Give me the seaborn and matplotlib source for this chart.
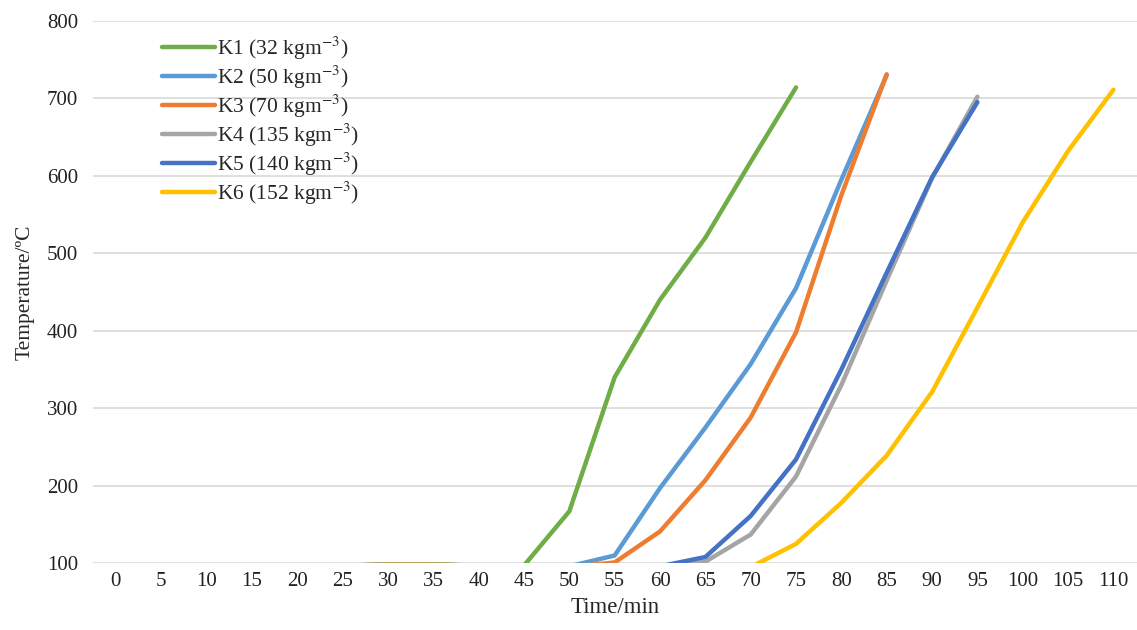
import numpy as np
import pandas as pd
import matplotlib
matplotlib.use("Agg")
import matplotlib.pyplot as plt
import seaborn as sns

times = [0, 5, 10, 15, 20, 25, 30, 35, 40, 45, 50, 55, 60, 65, 70, 75, 80, 85, 90, 95, 100, 105, 110]
labels = ["K1 (32 kgm$^{-3}$)", "K2 (50 kgm$^{-3}$)", "K3 (70 kgm$^{-3}$)",
          "K4 (135 kgm$^{-3}$)", "K5 (140 kgm$^{-3}$)", "K6 (152 kgm$^{-3}$)"]
nan = np.nan
k1 = [nan, nan, nan, nan, nan, 97, 98, 98, 97, 97, 167, 340, 440, 520, 618, 714,
      nan, nan, nan, nan, nan, nan, nan]
k2 = [nan, nan, nan, nan, nan, 97, 98, 98, 97, 96, 96, 110, 197, 275, 357, 455,
      595, 730, nan, nan, nan, nan, nan]
k3 = [nan, nan, nan, nan, nan, 97, 98, 98, 97, 96, 95, 101, 141, 207, 288, 398,
      575, 731, nan, nan, nan, nan, nan]
k4 = [nan, nan, nan, nan, nan, 97, 98, 98, 97, 96, 95, 95, 94, 102, 137, 212,
      330, 465, 597, 702, nan, nan, nan]
k5 = [nan, nan, nan, nan, nan, 97, 98, 98, 97, 96, 95, 95, 96, 108, 161, 234,
      350, 475, 598, 695, nan, nan, nan]
k6 = [nan, nan, nan, nan, nan, 97, 98, 98, 97, 96, 95, 95, 94, 94, 95, 125,
      178, 239, 321, 430, 540, 632, 711]
series = [k1, k2, k3, k4, k5, k6]
colors = ["#70AD47", "#5B9BD5", "#ED7D31", "#A5A5A5", "#4472C4", "#FFC000"]

rows = []
for lab, vals in zip(labels, series):
    for t, v in zip(times, vals):
        rows.append({"Time": t, "Temp": v, "Series": lab})
df = pd.DataFrame(rows).dropna()

sns.set_theme(style="white")
plt.rcParams['font.family'] = ['Liberation Serif', 'DejaVu Serif']
plt.rcParams['mathtext.fontset'] = 'stix'

fig = plt.figure(figsize=(11.37, 6.3), dpi=100)
ax = fig.add_axes([0.082, 0.106, 0.918, 0.861])

sns.lineplot(data=df, x="Time", y="Temp", hue="Series", hue_order=labels,
             palette=dict(zip(labels, colors)), linewidth=3.2, ax=ax,
             sort=True, estimator=None)
for line in ax.get_lines():
    line.set_solid_capstyle('round')
    line.set_solid_joinstyle('round')

ax.set_ylim(100, 800)
ax.set_xlim(-2.5, 112.6)
ax.set_xticks(times)
ax.set_xticklabels([str(t) for t in times])
ax.set_yticks(range(100, 801, 100))
ax.yaxis.grid(True, color="#D9D9D9", linewidth=1.2)
ax.xaxis.grid(False)
for s in ax.spines.values():
    s.set_visible(False)
ax.tick_params(axis='both', length=0, labelsize=15, colors="#222222")
ax.tick_params(axis='x', pad=6)
ax.tick_params(axis='y', pad=11)
ax.set_xlabel("Time/min", fontsize=16.5, labelpad=5)
ax.set_ylabel("Temperature/ºC", fontsize=15.5, labelpad=9)

leg = ax.legend(loc="upper left", bbox_to_anchor=(0.047, 1.01), frameon=False,
                fontsize=15.5, handlelength=2.5, handletextpad=0.08,
                labelspacing=0.08)
for h in leg.get_lines():
    h.set_linewidth(3.2)
    h.set_solid_capstyle('round')

fig.savefig("out.png", dpi=100)
